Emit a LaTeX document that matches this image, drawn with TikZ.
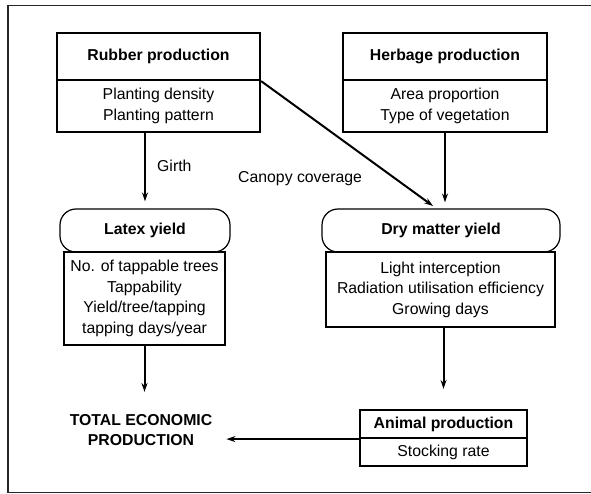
\documentclass[tikz,border=0pt]{standalone}
\usepackage{fontspec}
\setmainfont{Liberation Sans}
\usetikzlibrary{arrows.meta,calc}
\begin{document}
\begin{tikzpicture}[x=1pt,y=-1pt,
  txt/.style={font=\fontsize{15.8}{20.5}\selectfont, align=center, inner sep=0pt},
  btxt/.style={txt, font=\fontsize{15.8}{20.5}\selectfont\bfseries},
  hdr/.style={btxt, draw, line width=2.2pt},
  lst/.style={txt, draw, line width=1.2pt},
  rnd/.style={btxt, draw, line width=1.2pt, rounded corners=16pt},
  arr/.style={line width=2pt, -{Stealth[length=9pt,width=6pt]}}
]
\clip (0,0) rectangle (591,494);
\useasboundingbox (0,0) rectangle (591,494);
\draw[line width=1.2pt, black!85] (600,5.5) -- (8,5.5) -- (8,492.5) -- (600,492.5);

% Rubber
\node[lst, minimum width=203pt, minimum height=52pt] (rlist) at (158.5,106) {Planting density\\Planting pattern};
\node[hdr, minimum width=203pt, minimum height=47pt] (rhead) at (158.5,56.5) {Rubber production};
% Herbage
\node[lst, minimum width=204pt, minimum height=52pt] (hlist) at (445,106) {Area proportion\\Type of vegetation};
\node[hdr, minimum width=204pt, minimum height=47pt] (hhead) at (445,56.5) {Herbage production};
% Latex yield
\node[lst, minimum width=161pt, minimum height=93pt] (llist) at (144.5,298.5) {No. of tappable trees\\Tappability\\Yield/tree/tapping\\tapping days/year};
\node[rnd, minimum width=170pt, minimum height=43pt] (latex) at (145,230.5) {Latex yield};
% Dry matter yield
\node[lst, minimum width=229pt, minimum height=75pt] (dlist) at (440.5,289.5) {Light interception\\Radiation utilisation efficiency\\Growing days};
\node[rnd, minimum width=238pt, minimum height=43pt] (dry) at (441,230.5) {Dry matter yield};
% Animal production
\node[lst, minimum width=167pt, minimum height=28pt] (alist) at (443.5,452) {Stocking rate};
\node[hdr, minimum width=167pt, minimum height=28pt] (ahead) at (443.5,424) {Animal production};
% Total
\node[btxt] (total) at (141,430) {TOTAL ECONOMIC\\PRODUCTION};

% Labels
\node[txt, anchor=west] (girth) at (157,166) {Girth};
\node[txt, anchor=west] (canopy) at (238,179) {Canopy coverage};

\coordinate (ctip) at (433,206);

% Connectors
\draw[arr, shorten >=7pt] (rlist.south -| latex.north) -- (latex.north);
\draw[arr] (rhead.south east) -- (ctip);
\draw[arr, shorten >=6pt] (hlist.south) -- (hlist.south |- dry.north);
\draw[arr, shorten >=22pt] (llist.south) -- (llist.south |- total.north);
\draw[arr, shorten >=20pt] (dlist.south -| ahead.north) -- (ahead.north);
\draw[arr, shorten >=14pt] (ahead.south west) -- (ahead.south west -| total.east);
\end{tikzpicture}
\end{document}
